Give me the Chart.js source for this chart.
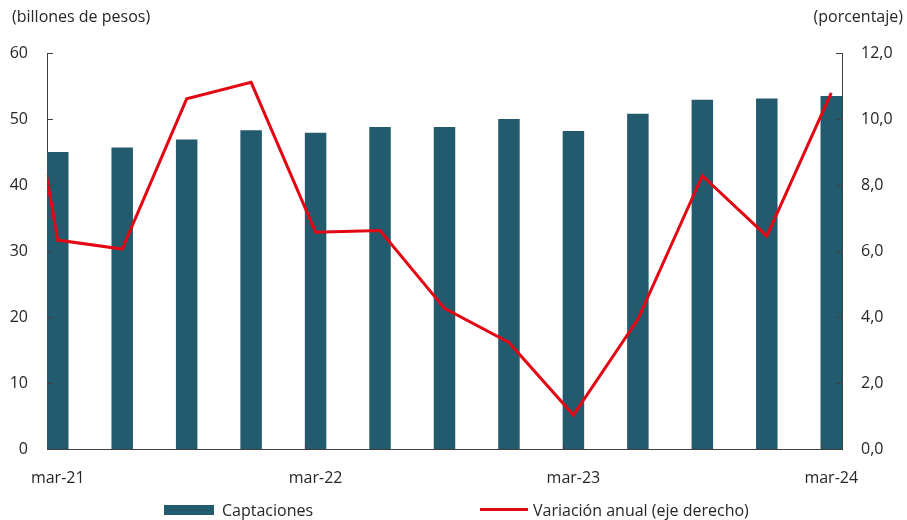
<!DOCTYPE html>
<html lang="es">
<head>
<meta charset="utf-8">
<script src="https://cdn.jsdelivr.net/npm/chart.js@4/dist/chart.umd.min.js"></script>
<style>
  body { margin: 0; background: #fff; font-family: "Open Sans", sans-serif; color: #262626; }
  #wrap { position: relative; width: 907px; height: 520px; }
  #chart { position: absolute; left: 0; top: 0; }
  .unit { position: absolute; top: 5px; font-size: 16px; }
  .leg { position: absolute; font-size: 16px; line-height: 20px; top: 500px; }
  .swatch { position: absolute; }
</style>
</head>
<body>
<div id="wrap">
  <canvas id="chart" width="907" height="520"></canvas>
  <div class="unit" style="left:12px">(billones de pesos)</div>
  <div class="unit" style="right:4px">(porcentaje)</div>
  <div class="swatch" style="left:164px; top:505px; width:50px; height:10px; background:#235B6E"></div>
  <div class="leg" style="left:222px">Captaciones</div>
  <div class="swatch" style="left:480px; top:508px; width:48px; height:3px; background:#E30613"></div>
  <div class="leg" style="left:533px">Variación anual (eje derecho)</div>
</div>
<script>
// trimestres, meses desde mar-21
const periods = ['mar-21', 'jun-21', 'sep-21', 'dic-21', 'mar-22', 'jun-22', 'sep-22', 'dic-22',
                 'mar-23', 'jun-23', 'sep-23', 'dic-23', 'mar-24'];
const captaciones = [45.0, 45.7, 46.9, 48.3, 47.9, 48.8, 48.8, 50.0, 48.2, 50.8, 52.9, 53.1, 53.5];
const variacion = [6.33, 6.06, 10.61, 11.11, 6.57, 6.62, 4.26, 3.23, 1.03, 3.93, 8.28, 6.45, 10.79];
// dic-20, queda fuera del eje y solo asoma el tramo inicial
const variacionPrevia = 17.5;
const xTickLabels = ['mar-21', 'mar-22', 'mar-23', 'mar-24'];
const leftTicks = [0, 10, 20, 30, 40, 50, 60];
const rightTicks = [0, 2, 4, 6, 8, 10, 12];

const monthOf = i => i * 3;
const barPoints = captaciones.map((v, i) => ({ x: monthOf(i), y: v }));
const linePoints = [{ x: -3, y: variacionPrevia }].concat(variacion.map((v, i) => ({ x: monthOf(i), y: v })));
const xTickMonths = xTickLabels.map(l => monthOf(periods.indexOf(l)));

const axisColor = '#404040';
const textColor = '#262626';
const font = { family: '"Open Sans", sans-serif', size: 16 };

// marcas de eje hacia dentro del area del grafico
const innerTicks = {
  id: 'innerTicks',
  afterDraw(chart) {
    const { ctx, chartArea, scales } = chart;
    ctx.save();
    ctx.strokeStyle = axisColor;
    ctx.lineWidth = 1;
    ctx.beginPath();
    leftTicks.forEach(v => {
      const y = Math.round(scales.y.getPixelForValue(v)) + 0.5;
      ctx.moveTo(chartArea.left, y);
      ctx.lineTo(chartArea.left + 6, y);
    });
    rightTicks.forEach(v => {
      const y = Math.round(scales.y1.getPixelForValue(v)) + 0.5;
      ctx.moveTo(chartArea.right, y);
      ctx.lineTo(chartArea.right - 6, y);
    });
    xTickMonths.slice(1).forEach(m => {
      const x = Math.round(scales.x.getPixelForValue(m - 0.5)) + 0.5;
      ctx.moveTo(x, chartArea.bottom);
      ctx.lineTo(x, chartArea.bottom - 6);
    });
    ctx.stroke();
    ctx.restore();
  }
};

new Chart(document.getElementById('chart'), {
  data: {
    datasets: [
      {
        type: 'line',
        label: 'Variación anual (eje derecho)',
        data: linePoints,
        yAxisID: 'y1',
        borderColor: '#E30613',
        borderWidth: 3,
        pointRadius: 0,
        tension: 0,
        order: 0
      },
      {
        type: 'bar',
        label: 'Captaciones',
        data: barPoints,
        yAxisID: 'y',
        backgroundColor: '#235B6E',
        categoryPercentage: 1,
        barPercentage: 1 / 3,
        order: 1
      }
    ]
  },
  options: {
    responsive: false,
    animation: false,
    layout: { padding: { top: 53, left: 0, right: 0, bottom: 0 } },
    plugins: { legend: { display: false }, tooltip: { enabled: false } },
    scales: {
      x: {
        type: 'linear',
        min: -0.5,
        max: 36.5,
        offset: false,
        grid: { display: false },
        border: { display: true, color: axisColor, width: 1 },
        afterBuildTicks(scale) { scale.ticks = xTickMonths.map(v => ({ value: v })); },
        afterFit(scale) { scale.height = 71; },
        ticks: {
          autoSkip: false,
          maxRotation: 0,
          padding: 12,
          color: textColor,
          font: font,
          callback: v => xTickLabels[xTickMonths.indexOf(v)]
        }
      },
      y: {
        position: 'left',
        min: 0,
        max: 60,
        grid: { display: false },
        border: { display: true, color: axisColor, width: 1 },
        afterBuildTicks(scale) { scale.ticks = leftTicks.map(v => ({ value: v })); },
        afterFit(scale) { scale.width = 47; },
        ticks: { padding: 11, color: textColor, font: font }
      },
      y1: {
        position: 'right',
        min: 0,
        max: 12,
        grid: { display: false },
        border: { display: true, color: axisColor, width: 1 },
        afterBuildTicks(scale) { scale.ticks = rightTicks.map(v => ({ value: v })); },
        afterFit(scale) { scale.width = 65; },
        ticks: {
          padding: 11,
          color: textColor,
          font: font,
          callback: v => v.toFixed(1).replace('.', ',')
        }
      }
    }
  },
  plugins: [innerTicks]
});
</script>
</body>
</html>
